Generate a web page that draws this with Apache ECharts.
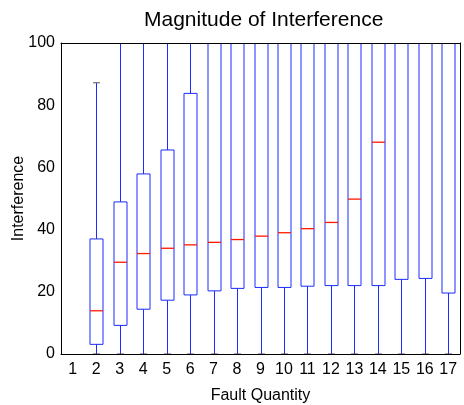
<!DOCTYPE html>
<html>
<head>
<meta charset="utf-8">
<script src="https://cdn.jsdelivr.net/npm/echarts@6/dist/echarts.min.js"></script>
<style>html,body{margin:0;padding:0;background:#fff}#c{width:464px;height:405px}</style>
</head>
<body>
<div id="c"></div>
<script>
// Categories (fault quantity)
var categories = ['1','2','3','4','5','6','7','8','9','10','11','12','13','14','15','16','17'];
// Box statistics per category (values above 100 are clipped in the picture; estimated as 100)
var lowerWhisker = [null, 0, 0, 0, 0, 0, 0, 0, 0, 0, 0, 0, 0, 0, 0, 0, 0];
var q1           = [null, 3.1, 9.2, 14.4, 17.3, 19.0, 20.3, 21.1, 21.4, 21.4, 21.8, 22.0, 22.0, 22.0, 24.0, 24.3, 19.6];
var medians      = [null, 13.9, 29.5, 32.3, 34.0, 35.1, 35.9, 36.8, 37.9, 39.0, 40.3, 42.3, 49.8, 68.1, 100, 100, 100];
var q3           = [null, 37.0, 48.9, 57.9, 65.6, 83.8, 100, 100, 100, 100, 100, 100, 100, 100, 100, 100, 100];
var upperWhisker = [null, 87.2, 100, 100, 100, 100, 100, 100, 100, 100, 100, 100, 100, 100, 100, 100, 100];
var yTicks = [0, 20, 40, 60, 80, 100];

var data = categories.map(function (c, i) {
  return [i, lowerWhisker[i], q1[i], medians[i], q3[i], upperWhisker[i]];
});

var chart = echarts.init(document.getElementById('c'), null, {renderer: 'canvas'});
var FONT = 'Liberation Sans, Arial, Helvetica, sans-serif';

function renderItem(params, api) {
  if (api.value(1) == null || isNaN(api.value(1))) return null;
  var x = api.value(0);
  var pMin = api.coord([x, api.value(1)]);
  var pQ1 = api.coord([x, api.value(2)]);
  var pMed = api.coord([x, api.value(3)]);
  var pQ3 = api.coord([x, api.value(4)]);
  var pMax = api.coord([x, api.value(5)]);
  var cx = Math.round(pMin[0]) + 0.5;
  var half = 6.5;
  var capHalf = 3.5;
  var blue = {stroke: '#1a2cff', lineWidth: 1};
  return {
    type: 'group',
    children: [
      {type: 'line', shape: {x1: cx, y1: pQ3[1], x2: cx, y2: pMax[1]}, style: blue},
      {type: 'line', shape: {x1: cx, y1: pMin[1], x2: cx, y2: pQ1[1]}, style: blue},
      {type: 'rect', shape: {x: cx - half, y: pQ3[1], width: half * 2, height: pQ1[1] - pQ3[1]}, style: {stroke: '#1a2cff', lineWidth: 1, fill: 'none'}},
      {type: 'line', shape: {x1: cx - capHalf, y1: pMax[1], x2: cx + capHalf, y2: pMax[1]}, style: {stroke: '#555555', lineWidth: 1}},
      {type: 'line', shape: {x1: cx - capHalf, y1: pMin[1], x2: cx + capHalf, y2: pMin[1]}, style: {stroke: '#555555', lineWidth: 1}},
      {type: 'line', shape: {x1: cx - half, y1: pMed[1], x2: cx + half, y2: pMed[1]}, style: {stroke: '#ff1a00', lineWidth: 1.3}}
    ]
  };
}

var frameLine = {show: true, onZero: false, lineStyle: {color: '#000', width: 1}};

chart.setOption({
  animation: false,
  backgroundColor: '#fff',
  title: {
    text: 'Magnitude of Interference',
    left: 139, top: 5,
    textStyle: {fontFamily: FONT, fontSize: 21, fontWeight: 'normal', color: '#000'}
  },
  grid: {left: 61, right: 4, top: 43, bottom: 51, containLabel: false, outerBoundsMode: 'none'},
  xAxis: [{
    type: 'category', data: categories, position: 'bottom', z: 10,
    name: 'Fault Quantity', nameLocation: 'middle', nameGap: 34, nameMoveOverlap: false,
    nameTextStyle: {fontFamily: FONT, fontSize: 16, color: '#000'},
    axisLine: frameLine, axisTick: {show: false},
    axisLabel: {fontFamily: FONT, fontSize: 16, color: '#000', margin: 8, interval: 0},
    splitLine: {show: false}
  }, {
    type: 'category', data: categories, position: 'top', z: 10,
    axisLine: frameLine, axisTick: {show: false}, axisLabel: {show: false}, splitLine: {show: false}
  }],
  yAxis: [{
    type: 'value', min: 0, max: 100, interval: 20, position: 'left', z: 10,
    name: 'Interference', nameLocation: 'middle', nameGap: 34, nameRotate: 90, nameMoveOverlap: false,
    nameTextStyle: {fontFamily: FONT, fontSize: 16, color: '#000'},
    axisLine: frameLine, axisTick: {show: false},
    axisLabel: {fontFamily: FONT, fontSize: 16, color: '#000', margin: 6,
      formatter: function (v) { return yTicks.indexOf(v) >= 0 ? String(v) : ''; }},
    splitLine: {show: false}
  }, {
    type: 'value', min: 0, max: 100, interval: 20, position: 'right', z: 10,
    axisLine: frameLine, axisTick: {show: false}, axisLabel: {show: false}, splitLine: {show: false}
  }],
  series: [{
    type: 'custom',
    renderItem: renderItem,
    clip: true,
    xAxisIndex: 0, yAxisIndex: 0,
    encode: {x: 0, y: [1, 2, 3, 4, 5]},
    data: data,
    z: 2
  }]
});
</script>
</body>
</html>
